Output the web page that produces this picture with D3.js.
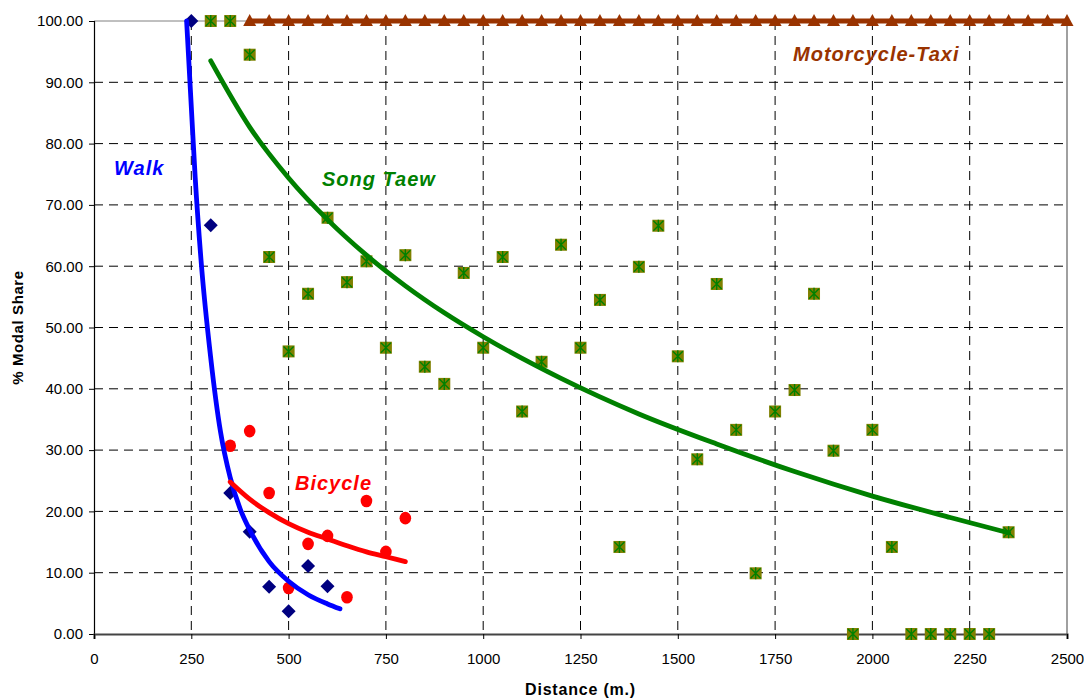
<!DOCTYPE html>
<html>
<head>
<meta charset="utf-8">
<script src="https://cdn.jsdelivr.net/npm/d3@7"></script>
<style>
  html, body { margin: 0; padding: 0; background: #fff; }
  svg { display: block; font-family: "Liberation Sans", Arial, sans-serif; }
</style>
</head>
<body>
<svg id="chart" width="1084" height="700"></svg>
<script>
// ---------- data ----------
const xTicks = [0, 250, 500, 750, 1000, 1250, 1500, 1750, 2000, 2250, 2500];
const yTicks = [0, 10, 20, 30, 40, 50, 60, 70, 80, 90, 100];

const walkX = [250, 300, 350, 400, 450, 500, 550, 600];
const walkY = [100, 66.7, 23, 16.7, 7.7, 3.7, 11.1, 7.8];

const bikeX = [350, 400, 450, 500, 550, 600, 650, 700, 750, 800];
const bikeY = [30.7, 33.1, 23, 7.5, 14.7, 16, 6.0, 21.7, 13.4, 18.9];

const songX = [300, 350, 400, 450, 500, 550, 600, 650, 700, 750, 800, 850, 900, 950,
               1000, 1050, 1100, 1150, 1200, 1250, 1300, 1350, 1400, 1450, 1500, 1550,
               1600, 1650, 1700, 1750, 1800, 1850, 1900, 1950, 2000, 2050, 2100, 2150,
               2200, 2250, 2300, 2350];
const songY = [100, 100, 94.5, 61.5, 46.1, 55.5, 67.9, 57.4, 60.8, 46.7, 61.8, 43.6, 40.8, 58.9,
               46.7, 61.5, 36.3, 44.4, 63.5, 46.7, 54.5, 14.2, 59.9, 66.6, 45.3, 28.5,
               57.1, 33.3, 9.9, 36.3, 39.8, 55.5, 29.9, 0, 33.3, 14.2, 0, 0,
               0, 0, 0, 16.6];

const motoX = [400, 450, 500, 550, 600, 650, 700, 750, 800, 850, 900, 950, 1000, 1050,
               1100, 1150, 1200, 1250, 1300, 1350, 1400, 1450, 1500, 1550, 1600, 1650,
               1700, 1750, 1800, 1850, 1900, 1950, 2000, 2050, 2100, 2150, 2200, 2250,
               2300, 2350, 2400, 2450, 2500];
const motoY = [100, 100, 100, 100, 100, 100, 100, 100, 100, 100, 100, 100, 100, 100,
               100, 100, 100, 100, 100, 100, 100, 100, 100, 100, 100, 100,
               100, 100, 100, 100, 100, 100, 100, 100, 100, 100, 100, 100,
               100, 100, 100, 100, 100];

// trend curves
const walkTrendX = [238, 250, 260, 275, 300, 325, 350, 375, 400, 450, 500, 550, 600, 632];
const walkTrendY = [100, 86, 74.5, 61, 45, 33, 25.5, 20.5, 17, 11.8, 8.6, 6.4, 4.9, 4.1];

const bikeTrendX = [350, 400, 450, 500, 550, 600, 650, 700, 750, 800];
const bikeTrendY = [24.8, 22.0, 19.8, 18.0, 16.6, 15.5, 14.4, 13.4, 12.6, 11.8];

const songTrendX = [300, 400, 500, 600, 700, 800, 900, 1000, 1200, 1400, 1600, 1800, 2000, 2200, 2350];
const songTrendY = [93.5, 82.7, 74.4, 67.6, 61.8, 56.8, 52.4, 48.5, 41.7, 35.9, 31.0, 26.5, 22.5, 19.0, 16.5];

// ---------- chart ----------
const svg = d3.select("#chart");
const L = 94, R = 1067, T = 21, B = 634;
const x = d3.scaleLinear().domain([0, 2500]).range([L, R]);
const y = d3.scaleLinear().domain([0, 100]).range([B, T]);

const zip = (xs, ys) => xs.map((v, i) => [v, ys[i]]);

// grid
const grid = svg.append("g");
grid.selectAll("line.h").data(yTicks.filter(d => d > 0 && d < 100)).join("line")
  .attr("x1", L).attr("x2", R).attr("y1", d => y(d)).attr("y2", d => y(d))
  .attr("stroke", "#000").attr("stroke-width", 1).attr("stroke-dasharray", "9,6");
grid.selectAll("line.v").data(xTicks.filter(d => d > 0 && d < 2500)).join("line")
  .attr("x1", d => x(d)).attr("x2", d => x(d)).attr("y1", T).attr("y2", B)
  .attr("stroke", "#000").attr("stroke-width", 1).attr("stroke-dasharray", "9,6");

// plot border
svg.append("line").attr("x1", L).attr("x2", R).attr("y1", T).attr("y2", T)
  .attr("stroke", "#808080").attr("stroke-width", 1);
svg.append("line").attr("x1", R).attr("x2", R).attr("y1", T).attr("y2", B)
  .attr("stroke", "#808080").attr("stroke-width", 1.5);

// axes
const yAxis = d3.axisLeft(y).tickValues(yTicks).tickFormat(d3.format(".2f")).tickSize(5).tickPadding(6);
const gy = svg.append("g").attr("transform", `translate(${L},0)`).call(yAxis);
gy.select(".domain").attr("stroke", "#000").attr("stroke-width", 1.2);
gy.selectAll(".tick line").attr("stroke", "#000");
gy.selectAll("text").attr("font-size", 15).attr("fill", "#000")
  .attr("font-family", "Liberation Sans, Arial, sans-serif");

const xAxis = d3.axisBottom(x).tickValues(xTicks).tickFormat(d3.format("d")).tickSize(5).tickPadding(14);
const gx = svg.append("g").attr("transform", `translate(0,${B})`).call(xAxis);
gx.select(".domain").attr("stroke", "#444").attr("stroke-width", 2.2);
gx.selectAll(".tick line").attr("stroke", "#000");
gx.selectAll("text").attr("font-size", 15).attr("fill", "#000")
  .attr("font-family", "Liberation Sans, Arial, sans-serif");

// axis titles
svg.append("text").attr("x", (L + R) / 2).attr("y", 695).attr("text-anchor", "middle")
  .attr("font-size", 16).attr("font-weight", "bold").attr("letter-spacing", "0.8px")
  .text("Distance (m.)");
svg.append("text").attr("transform", `translate(23,${(T + B) / 2}) rotate(-90)`)
  .attr("text-anchor", "middle").attr("font-size", 15).attr("font-weight", "bold")
  .attr("letter-spacing", "0.6px").text("% Modal Share");

// ----- series -----
const line = d3.line().x(d => x(d[0])).y(d => y(d[1]));
const smooth = d3.line().x(d => x(d[0])).y(d => y(d[1])).curve(d3.curveMonotoneX);

// Motorcycle-Taxi
svg.append("path").datum(zip(motoX, motoY)).attr("d", line)
  .attr("fill", "none").attr("stroke", "#993300").attr("stroke-width", 5);
svg.append("g").selectAll("path").data(zip(motoX, motoY)).join("path")
  .attr("transform", d => `translate(${x(d[0])},${y(d[1])})`)
  .attr("d", "M0,-7L6.5,5L-6.5,5Z")
  .attr("fill", "#993300");

// Song Taew markers
const sg = svg.append("g").selectAll("g").data(zip(songX, songY)).join("g")
  .attr("transform", d => `translate(${x(d[0])},${y(d[1])})`);
sg.append("rect").attr("x", -6).attr("y", -6).attr("width", 12).attr("height", 12).attr("fill", "#808000");
sg.append("path").attr("d", "M-5,-5L5,5M-5,5L5,-5M0,-6L0,6")
  .attr("stroke", "#008000").attr("stroke-width", 1.4).attr("fill", "none");

// Walk markers
svg.append("g").selectAll("path").data(zip(walkX, walkY)).join("path")
  .attr("transform", d => `translate(${x(d[0])},${y(d[1])})`)
  .attr("d", "M0,-7L7,0L0,7L-7,0Z")
  .attr("fill", "#000080");

// Bicycle markers
svg.append("g").selectAll("ellipse").data(zip(bikeX, bikeY)).join("ellipse")
  .attr("cx", d => x(d[0])).attr("cy", d => y(d[1])).attr("rx", 5.8).attr("ry", 6.3)
  .attr("fill", "#ff0000");

// trend lines
svg.append("path").datum(zip(walkTrendX, walkTrendY)).attr("d", smooth)
  .attr("fill", "none").attr("stroke", "#0000ff").attr("stroke-width", 4.8).attr("stroke-linecap", "round");
svg.append("path").datum(zip(bikeTrendX, bikeTrendY)).attr("d", smooth)
  .attr("fill", "none").attr("stroke", "#ff0000").attr("stroke-width", 4.8).attr("stroke-linecap", "round");
svg.append("path").datum(zip(songTrendX, songTrendY)).attr("d", smooth)
  .attr("fill", "none").attr("stroke", "#008000").attr("stroke-width", 4.8).attr("stroke-linecap", "round");

// labels
const lab = (t, px, py, c) => svg.append("text").attr("x", px).attr("y", py)
  .attr("font-size", 20).attr("font-weight", "bold").attr("font-style", "italic")
  .attr("letter-spacing", "1px").attr("fill", c).text(t);
lab("Walk", 114, 175, "#0000ff");
lab("Song Taew", 322, 186, "#008000");
lab("Bicycle", 295, 490, "#ff0000");
lab("Motorcycle-Taxi", 793, 61, "#993300");
</script>
</body>
</html>
